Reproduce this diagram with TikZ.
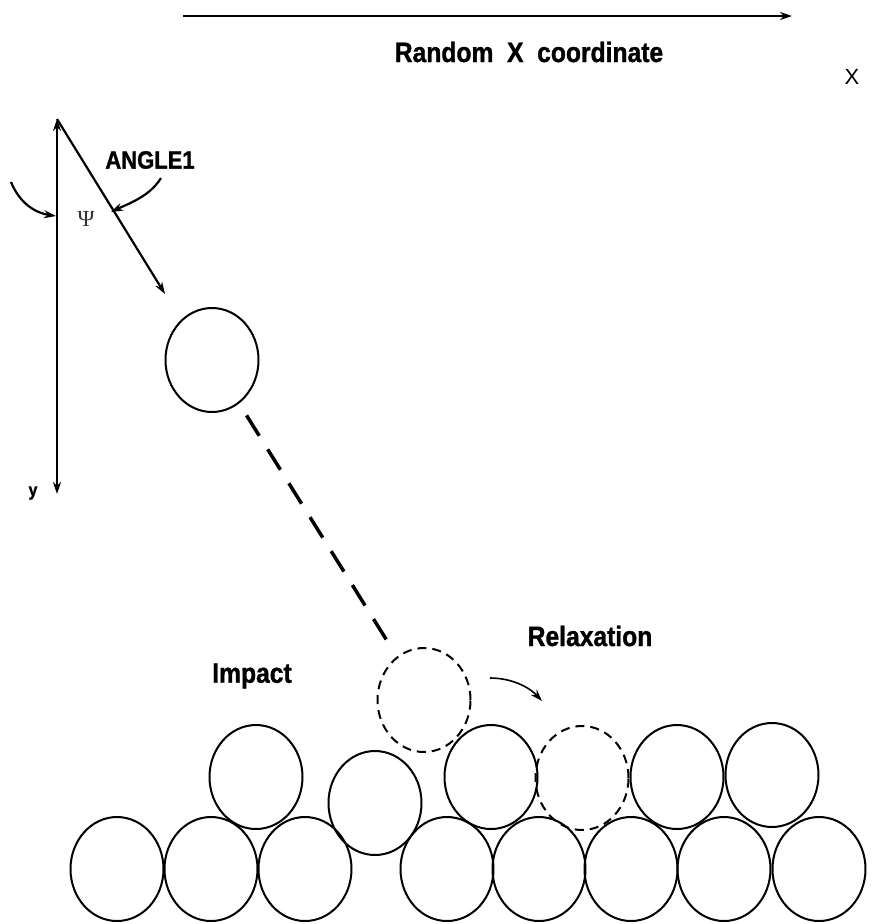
\documentclass[tikz,border=0pt]{standalone}
\usepackage{fontspec}
\setmainfont{Liberation Sans}
\newfontfamily\labfont[FakeStretch=0.88,FakeBold=1.2]{Liberation Sans Bold}
\newfontfamily\psifont{Liberation Serif}
\usetikzlibrary{arrows.meta,shapes.geometric}
\tikzset{
  ball/.style={ellipse,draw,line width=2pt,minimum width=93pt,minimum height=104pt,inner sep=0pt},
  ghost/.style={ball,dashed,dash pattern=on 9pt off 6pt},
  arr/.style={line width=2.2pt,-{Stealth[length=12pt,width=8pt]}},
  lab/.style={font=\labfont\fontsize{28}{30}\selectfont,inner sep=0pt}
}
\begin{document}
\begin{tikzpicture}[x=1pt,y=-1pt]
\useasboundingbox (0,0) rectangle (877,924);
% top axis
\coordinate (xs) at (183,16);
\coordinate (xe) at (792,16);
\draw[arr] (xs) -- (xe);
\node[lab] (rx) at (529,52) {Random\ \ X\ \ coordinate};
\node[font=\fontsize{22}{24}\selectfont,inner sep=0pt] (xl) at (852,77) {X};
% vertical axis
\coordinate (o) at (57,119);
\coordinate (ybot) at (57,494);
\coordinate (dend) at (165,294);
\draw[arr] (57,300) -- (o);
\draw[arr] (57,300) -- (ybot);
\draw[arr] (o) -- (dend);
\node[font=\labfont\fontsize{18}{20}\selectfont,inner sep=0pt] (yl) at (33,493) {y};
% angle labels
\node[lab,font=\labfont\fontsize{25}{27}\selectfont] (a1) at (150,160) {ANGLE1};
\node[font=\psifont\fontsize{23}{25}\selectfont,text=black!80,inner sep=0pt] (psi) at (86,219) {Ψ};
\coordinate (ls) at (11,182);
\coordinate (lt) at (56,216);
\draw[arr] (ls) .. controls (20,204) and (36,213) .. (lt);
\coordinate (as) at (161,178);
\coordinate (at) at (111,212);
\draw[arr] (as) .. controls (150,196) and (130,203) .. (at);
% falling ball
\node[ball] (free) at (212,360) {};
\node[ghost] (imp) at (424,700) {};
\draw[line width=3.5pt,dash pattern=on 24pt off 16pt,shorten <=14pt,shorten >=12pt] (free) -- (imp);
\node[lab] (impl) at (252,676) {Impact};
\node[lab] (rel) at (590,636) {Relaxation};
\coordinate (rs) at (490,678);
\coordinate (rt) at (542,701);
\draw[arr,line width=1.6pt] (rs) .. controls (510,678) and (528,686) .. (rt);
% upper row
\node[ball] (u1) at (256,777) {};
\node[ball] (u2) at (375,803) {};
\node[ball] (u3) at (491,777) {};
\node[ghost] (u4) at (582,778) {};
\node[ball] (u5) at (677,777) {};
\node[ball] (u6) at (772,775) {};
% bottom row
\foreach \n/\x in {b1/117,b2/211,b3/305,b4/447,b5/539,b6/631,b7/724,b8/819}
  \node[ball] (\n) at (\x,869) {};
\end{tikzpicture}
\end{document}
